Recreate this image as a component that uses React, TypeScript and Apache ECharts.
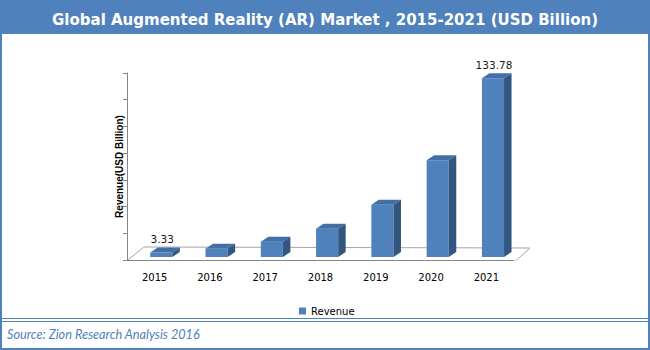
import React, { useEffect, useRef } from "react";
import * as echarts from "echarts";

const categories = ["2015", "2016", "2017", "2018", "2019", "2020", "2021"];
const revenue = [3.33, 6.2, 11.5, 21.2, 39.2, 72.4, 133.78];
const valueLabels = ["3.33", "", "", "", "", "", "133.78"];
const yMin = 0;
const yMax = 140;
const yInterval = 20;
const seriesName = "Revenue";
const titleText = "Global Augmented Reality (AR) Market , 2015-2021 (USD Billion)";
const yAxisName = "Revenue(USD Billion)";
const sourceText = "Source: Zion Research Analysis 2016";

const BLUE = "#4f81bd";
const TOP = "#416fa6";
const SIDE = "#33567f";

export default function App() {
  const ref = useRef<HTMLDivElement>(null);
  useEffect(() => {
    document.body.style.margin = "0";
    const chart = echarts.init(ref.current!, null, { renderer: "svg" });
    const dx = 7.5;
    const dy = -5;
    chart.setOption({
      animation: false,
      backgroundColor: "#ffffff",
      title: {
        text: titleText,
        left: "center",
        top: 7,
        z: 10,
        textStyle: {
          color: "#ffffff",
          fontSize: 15,
          fontWeight: "bold",
          fontFamily: "DejaVu Sans",
        },
      },
      legend: {
        data: [seriesName],
        left: 294,
        top: 301,
        itemWidth: 7,
        itemHeight: 7,
        icon: "rect",
        textStyle: { fontSize: 10, color: "#000", fontFamily: "DejaVu Sans" },
      },
      grid: { left: 127, right: 136, top: 73, bottom: 90 },
      xAxis: {
        type: "category",
        data: categories,
        axisLine: { lineStyle: { color: "#868686", width: 1 } },
        axisTick: { length: 5, lineStyle: { color: "#868686" } },
        axisLabel: {
          color: "#000",
          fontSize: 10,
          fontFamily: "DejaVu Sans",
          margin: 12,
        },
      },
      yAxis: {
        type: "value",
        min: yMin,
        max: yMax,
        interval: yInterval,
        name: yAxisName,
        nameLocation: "middle",
        nameGap: 3,
        nameTextStyle: {
          fontSize: 10,
          fontWeight: "bold",
          color: "#000",
          fontFamily: "Liberation Sans",
        },
        axisLine: { show: true, lineStyle: { color: "#868686" } },
        axisTick: { show: true, length: 4, lineStyle: { color: "#868686" } },
        axisLabel: { show: false },
        splitLine: { show: false },
      },
      graphic: [
        {
          type: "rect",
          z: 0,
          shape: { x: 0, y: 0, width: 650, height: 34 },
          style: { fill: BLUE },
        },
        {
          type: "rect",
          z: 0,
          shape: { x: 1, y: 1, width: 648, height: 348 },
          style: { fill: null, stroke: BLUE, lineWidth: 2 },
        },
        {
          type: "line",
          z: 0,
          shape: { x1: 0, y1: 318.5, x2: 650, y2: 318.5 },
          style: { stroke: BLUE, lineWidth: 1 },
        },
        {
          type: "line",
          z: 0,
          shape: { x1: 0, y1: 321.5, x2: 650, y2: 321.5 },
          style: { stroke: BLUE, lineWidth: 1 },
        },
        {
          type: "text",
          z: 1,
          x: 7,
          y: 334,
          style: {
            text: sourceText,
            fill: BLUE,
            font: "italic 12.7px Lato",
            verticalAlign: "middle",
          },
        },
      ],
      series: [
        {
          type: "custom",
          name: "floor",
          silent: true,
          z: 1,
          data: [[0]],
          renderItem: (params: any) => {
            const cs = params.coordSys;
            const x0 = cs.x;
            const x1 = cs.x + cs.width;
            const yb = cs.y + cs.height;
            return {
              type: "polyline",
              shape: {
                points: [
                  [x0 + 1, yb],
                  [x0 + 17, yb - 13],
                  [x1 + 16, yb - 12],
                  [x1 + 2, yb + 0.5],
                ],
              },
              style: { stroke: "#a6a6a6", fill: null, lineWidth: 1 },
            };
          },
        },
        {
          type: "custom",
          name: seriesName,
          z: 2,
          itemStyle: { color: BLUE },
          data: revenue.map((v, i) => [i, v]),
          renderItem: (params: any, api: any) => {
            const i = api.value(0);
            const v = api.value(1);
            const base = api.coord([i, 0]);
            const top = api.coord([i, v]);
            const bw = api.size([1, 0])[0] * 0.4;
            const xl = base[0] - bw * 0.2;
            const xr = xl + bw;
            const yb = base[1] - 3;
            const yt = top[1] - 3;
            const children: any[] = [
              {
                type: "rect",
                shape: { x: xl, y: yt, width: bw, height: yb - yt },
                style: { fill: BLUE },
              },
              {
                type: "polygon",
                shape: {
                  points: [
                    [xl, yt],
                    [xl + dx, yt + dy],
                    [xr + dx, yt + dy],
                    [xr, yt],
                  ],
                },
                style: { fill: TOP },
              },
              {
                type: "polygon",
                shape: {
                  points: [
                    [xr, yt],
                    [xr + dx, yt + dy],
                    [xr + dx, yb + dy],
                    [xr, yb],
                  ],
                },
                style: { fill: SIDE },
              },
            ];
            const lab = valueLabels[params.dataIndex];
            if (lab) {
              children.push({
                type: "text",
                x: xl + bw / 2 + 1,
                y: yt + dy - 8.5,
                style: {
                  text: lab,
                  fill: "#1a1a1a",
                  font: "10.5px 'DejaVu Sans'",
                  align: "center",
                  verticalAlign: "middle",
                },
              });
            }
            return { type: "group", children };
          },
        },
      ],
    });
    return () => chart.dispose();
  }, []);
  return <div ref={ref} style={{ width: 650, height: 350 }} />;
}
